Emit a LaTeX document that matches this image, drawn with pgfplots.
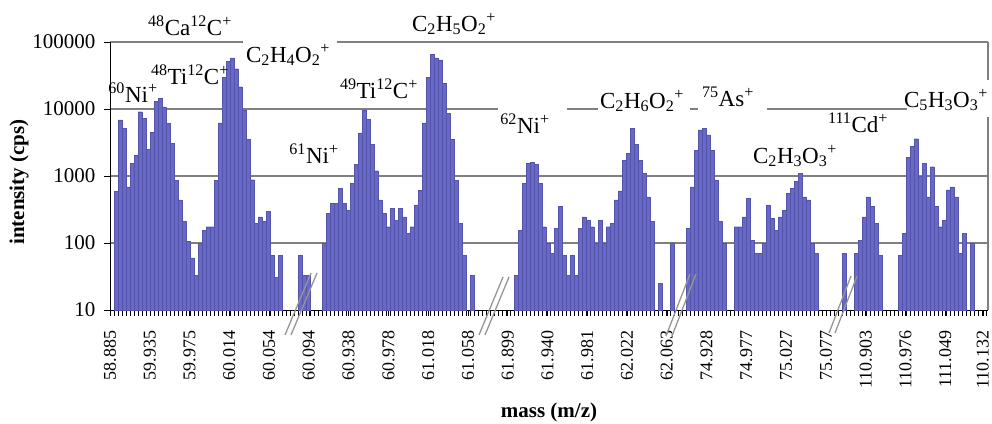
\documentclass[border=0pt]{standalone}
\usepackage{fontspec}
\setmainfont{Liberation Serif}
\usepackage{pgfplots}
\pgfplotsset{compat=1.18}
\definecolor{barfill}{RGB}{104,104,198}
\definecolor{baredge}{RGB}{84,84,170}
\definecolor{gridgray}{RGB}{128,128,128}
\definecolor{breakgray}{RGB}{150,150,150}
\newcommand{\su}[1]{\textsuperscript{#1}}
\newcommand{\sbs}[1]{\textsubscript{#1}}
\begin{document}
\begin{tikzpicture}
\useasboundingbox (0,0) rectangle (992pt,423pt);
% grid lines (behind the bars)
\begin{scope}[gridgray, line width=1.2pt]
\draw (110pt,180pt) -- (988pt,180pt);
\draw (110pt,247pt) -- (988pt,247pt);
\draw (110pt,314pt) -- (498pt,314pt);
\draw (567pt,314pt) -- (598pt,314pt);
\draw (690pt,314pt) -- (698pt,314pt);
\draw (767pt,314pt) -- (907pt,314pt);
\draw (110pt,381pt) -- (243pt,381pt);
\draw (337pt,381pt) -- (988pt,381pt);
\draw (988pt,381pt) -- (988pt,343pt);
\draw (988pt,306pt) -- (988pt,113pt);
\end{scope}
\begin{axis}[
  at={(110pt,113pt)}, anchor=south west,
  scale only axis, width=878pt, height=268pt,
  xmin=0, xmax=219.5, ymin=10, ymax=100000,
  ymode=log, log origin=infty,
  axis x line*=bottom, axis y line*=left,
  axis line style={black, line width=1pt, -},
  tick align=outside,
  xtick={0,9.943,19.886,29.829,39.772,49.715,59.658,69.601,79.544,89.487,99.43,109.373,119.316,129.259,139.202,149.145,159.088,169.031,178.974,188.917,198.86,208.803,218.2},
  xticklabels={58.885,59.935,59.975,60.014,60.054,60.094,60.938,60.978,61.018,61.058,61.899,61.940,61.981,62.022,62.063,74.928,74.977,75.027,75.077,110.903,110.976,111.049,110.132},
  minor xtick={0,1,...,219},
  major tick length=6pt, minor tick length=6pt,
  ytick={10,100,1000,10000,100000},
  yticklabels={10,100,1000,10000,100000},
  yminorticks=false,
  tick style={black, line width=0.5pt},
  xticklabel shift=11pt,
  xticklabel style={rotate=90, anchor=east, font=\fontsize{18}{20}\selectfont},
  yticklabel style={xshift=-5pt, font=\fontsize{21}{24}\selectfont},
  xlabel={mass (m/z)}, ylabel={intensity (cps)},
  xlabel style={at={(axis description cs:0.5,0)}, anchor=center, yshift=-102pt, font=\fontsize{21}{24}\selectfont\bfseries},
  ylabel style={at={(axis description cs:-0.1036,0.4776)}, anchor=center, rotate=0, font=\fontsize{21}{24}\selectfont\bfseries},
]
\addplot[ybar, bar width=1, bar shift=0pt, fill=barfill, draw=baredge, line width=0.25pt] coordinates {
(1.5,590) (2.5,6900) (3.5,5200) (4.5,690) (5.5,1550) (6.5,2050) (7.5,9100) (8.5,7200) (9.5,2500) (10.5,4500)
(11.5,12900) (12.5,14500) (13.5,10800) (14.5,6100) (15.5,3100) (16.5,870) (17.5,440) (18.5,210) (19.5,105) (20.5,60)
(21.5,33) (22.5,100) (23.5,155) (24.5,175) (25.5,175) (26.5,870) (27.5,6200) (28.5,30000) (29.5,51000) (30.5,58000)
(31.5,40000) (32.5,21500) (33.5,9700) (34.5,3500) (35.5,880) (36.5,195) (37.5,245) (38.5,210) (39.5,295) (40.5,66)
(41.5,31) (42.5,66) (47.5,66) (48.5,33) (49.5,33)
(53.5,100) (54.5,275) (55.5,390) (56.5,390) (57.5,660) (58.5,390) (59.5,310) (60.5,780)
(61.5,1500) (62.5,4400) (63.5,9500) (64.5,7000) (65.5,3000) (66.5,1200) (67.5,440) (68.5,275) (69.5,175) (70.5,330)
(71.5,220) (72.5,330) (73.5,245) (74.5,140) (75.5,175) (76.5,370) (77.5,610) (78.5,6200) (79.5,30000) (80.5,65000)
(81.5,58000) (82.5,54000) (83.5,24000) (84.5,8700) (85.5,3500) (86.5,870) (87.5,195) (88.5,66) (90.5,33)
(101.5,33) (102.5,155) (103.5,780) (104.5,1550) (105.5,1600) (106.5,1500) (107.5,780) (108.5,175) (109.5,100) (110.5,70)
(111.5,165) (112.5,350) (113.5,66) (114.5,33) (115.5,66) (116.5,33) (117.5,165) (118.5,245) (119.5,220) (120.5,175)
(121.5,100) (122.5,220) (123.5,100) (124.5,175) (125.5,195) (126.5,440) (127.5,600) (128.5,1700) (129.5,2200) (130.5,5200)
(131.5,3000) (132.5,1700) (133.5,1100) (134.5,490) (135.5,210) (137.5,25) (140.5,100)
(144.5,165) (145.5,690) (146.5,2400) (147.5,4900) (148.5,5200) (149.5,4100) (150.5,2400)
(151.5,870) (152.5,210) (153.5,100) (156.5,175) (157.5,175) (158.5,245) (159.5,460) (160.5,110)
(161.5,70) (162.5,70) (163.5,100) (164.5,370) (165.5,235) (166.5,155) (167.5,245) (168.5,310) (169.5,550) (170.5,660)
(171.5,830) (172.5,1100) (173.5,490) (174.5,440) (175.5,100) (176.5,70) (183.5,70) (186.5,70) (187.5,110) (188.5,245)
(189.5,490) (190.5,350) (191.5,195) (192.5,66) (197.5,66) (198.5,140) (199.5,1900) (200.5,2750)
(201.5,3600) (202.5,980) (203.5,1550) (204.5,490) (205.5,1380) (206.5,350) (207.5,175) (208.5,220) (209.5,620) (210.5,690)
(211.5,490) (212.5,70) (213.5,140) (215.5,100)
};
\end{axis}
% axis breaks
\begin{scope}[breakgray, line width=1.3pt]
\draw (285pt,88pt) -- (311pt,150pt); \draw (291pt,88pt) -- (317pt,150pt);
\draw (479pt,88pt) -- (503pt,146pt); \draw (485pt,88pt) -- (509pt,146pt);
\draw (666pt,87pt) -- (690pt,149pt); \draw (672pt,87pt) -- (696pt,149pt);
\draw (829pt,90pt) -- (851pt,147pt); \draw (835pt,90pt) -- (857pt,147pt);
\end{scope}
% annotations
\begin{scope}[every node/.style={font=\fontsize{23}{26}\selectfont, inner sep=1pt}]
\node at (190pt,397pt) {\su{48}Ca\su{12}C\su{+}};
\node at (454pt,399pt) {C\sbs{2}H\sbs{5}O\sbs{2}\su{+}};
\node at (190pt,348pt) {\su{48}Ti\su{12}C\su{+}};
\node at (288pt,368pt) {C\sbs{2}H\sbs{4}O\sbs{2}\su{+}};
\node at (133pt,330pt) {\su{60}Ni\su{+}};
\node at (379pt,334pt) {\su{49}Ti\su{12}C\su{+}};
\node at (314pt,269pt) {\su{61}Ni\su{+}};
\node at (525pt,299pt) {\su{62}Ni\su{+}};
\node at (642pt,322pt) {C\sbs{2}H\sbs{6}O\sbs{2}\su{+}};
\node at (728pt,326pt) {\su{75}As\su{+}};
\node at (858pt,300pt) {\su{111}Cd\su{+}};
\node at (795pt,267pt) {C\sbs{2}H\sbs{3}O\sbs{3}\su{+}};
\node at (946pt,323pt) {C\sbs{5}H\sbs{3}O\sbs{3}\su{+}};
\end{scope}
\end{tikzpicture}
\end{document}
